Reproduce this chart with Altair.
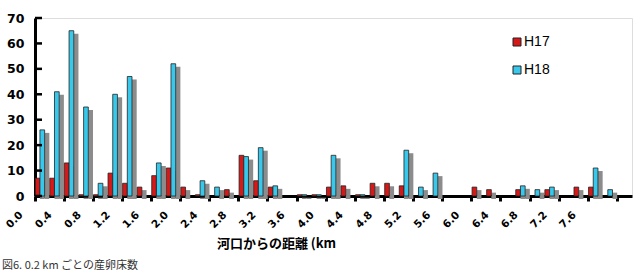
import altair as alt
import pandas as pd

distances = ["0.0", "0.2", "0.4", "0.6", "0.8", "1.0", "1.2", "1.4", "1.6", "1.8",
             "2.0", "2.2", "2.4", "2.6", "2.8", "3.0", "3.2", "3.4", "3.6", "3.8",
             "4.0", "4.2", "4.4", "4.6", "4.8", "5.0", "5.2", "5.4", "5.6", "5.8",
             "6.0", "6.2", "6.4", "6.6", "6.8", "7.0", "7.2", "7.4", "7.6", "7.8", "8.0"]
h17 = [7, 7, 13, 0.5, 0.5, 9, 5, 3.5, 8, 11,
       3.5, 0.5, 0, 2.5, 16, 6, 3.5, 0, 0.5, 0.5,
       3.5, 4, 0.5, 5, 5, 4, 0, 0, 0, 0,
       3.5, 2.5, 0, 2.5, 0, 2.5, 0, 3.5, 3.5, 0, 0]
h18 = [26, 41, 65, 35, 5, 40, 47, 0, 13, 52,
       0, 6, 3.5, 0, 15.5, 19, 4, 0, 0.5, 0.5,
       16, 0, 0.5, 0, 0, 18, 3.5, 9, 0, 0,
       0, 0, 0, 4, 2.5, 3.5, 0, 0, 11, 2.5, 0]
tick_labels = distances[::2]
y_ticks = [0, 10, 20, 30, 40, 50, 60, 70]
series_names = ["H17", "H18"]
series_colors = ["#D61818", "#38C8EC"]
slots = ["s0", "s1", "s2"]

rows = []
for d, a, b in zip(distances, h17, h18):
    rows.append({"dist": d, "series": "H17", "value": a, "slot": "s0", "shadow_slot": "s1"})
    rows.append({"dist": d, "series": "H18", "value": b, "slot": "s1", "shadow_slot": "s2"})
df = pd.DataFrame(rows)

x_enc = alt.X(
    "dist:O",
    sort=distances,
    scale=alt.Scale(domain=distances, paddingInner=0, paddingOuter=0),
    axis=alt.Axis(
        values=tick_labels,
        bandPosition=0,
        labelExpr="datum.value == '8.0' ? '' : datum.value",
        labelAngle=315, labelAlign="right", labelBaseline="middle",
        labelOffset=-21, labelPadding=12, labelOverlap=False,
        labelFont="DejaVu Sans", labelFontWeight="bold", labelFontSize=10.5,
        labelColor="black",
        tickSize=5, tickWidth=3, tickColor="black",
        domainWidth=3, domainColor="black",
        title="河口からの距離 (km",
        titleFont="Noto Sans CJK JP", titleFontSize=13, titleFontWeight="bold",
        titleColor="black",
        titleX=241, titleY=47, titleAlign="center", titleBaseline="middle",
        grid=False,
    ),
)
offset_scale = alt.Scale(domain=slots, paddingInner=0, paddingOuter=0.05)
y_scale = alt.Scale(domain=[0, 70], nice=False)
y_axis = alt.Axis(
    values=y_ticks, ticks=False, labelPadding=11, labelOverlap=False, labelFlush=False,
    labelFont="DejaVu Sans", labelFontWeight="bold", labelFontSize=12.5,
    labelColor="black",
    domainWidth=3, domainColor="black", grid=False, title="",
)
y_enc = alt.Y("value:Q", scale=y_scale, axis=y_axis)

base = alt.Chart(df).transform_filter("datum.value > 0")

shadow = base.mark_bar(color="#8c8c8c", yOffset=3).encode(
    x=x_enc, xOffset=alt.XOffset("shadow_slot:N", scale=offset_scale), y=y_enc
)
bars = base.mark_bar(stroke="#222222", strokeWidth=0.8).encode(
    x=x_enc, xOffset=alt.XOffset("slot:N", scale=offset_scale), y=y_enc,
    color=alt.Color(
        "series:N",
        scale=alt.Scale(domain=series_names, range=series_colors),
        legend=alt.Legend(
            title=None, orient="none", legendX=475, legendY=17,
            symbolType="square", symbolSize=64, symbolStrokeColor="#222222",
            symbolStrokeWidth=1, symbolOpacity=1,
            labelFont="Liberation Sans", labelFontSize=14, labelColor="black",
            labelOffset=0, rowPadding=14,
        ),
    ),
)
yticks = alt.Chart(pd.DataFrame({"value": y_ticks})).mark_rule(
    color="black", strokeWidth=2.5
).encode(
    y=alt.Y("value:Q", scale=y_scale, axis=y_axis), x=alt.value(0), x2=alt.value(7)
)

chart = alt.layer(shadow, bars, yticks).properties(
    width=597, height=178,
    autosize=alt.AutoSizeParams(type="none"),
    padding={"left": 35, "top": 18, "right": 8, "bottom": 79},
    title=alt.TitleParams(
        "図6. 0.2 km ごとの産卵床数", orient="bottom", anchor="start", frame="group",
        font="Noto Sans CJK JP", fontSize=11, fontWeight="normal", color="#333333",
        dx=-33, offset=10,
    ),
).configure_view(strokeWidth=0).configure(background="white")

chart.save("out.html", embed_options={"renderer": "svg", "actions": False})
